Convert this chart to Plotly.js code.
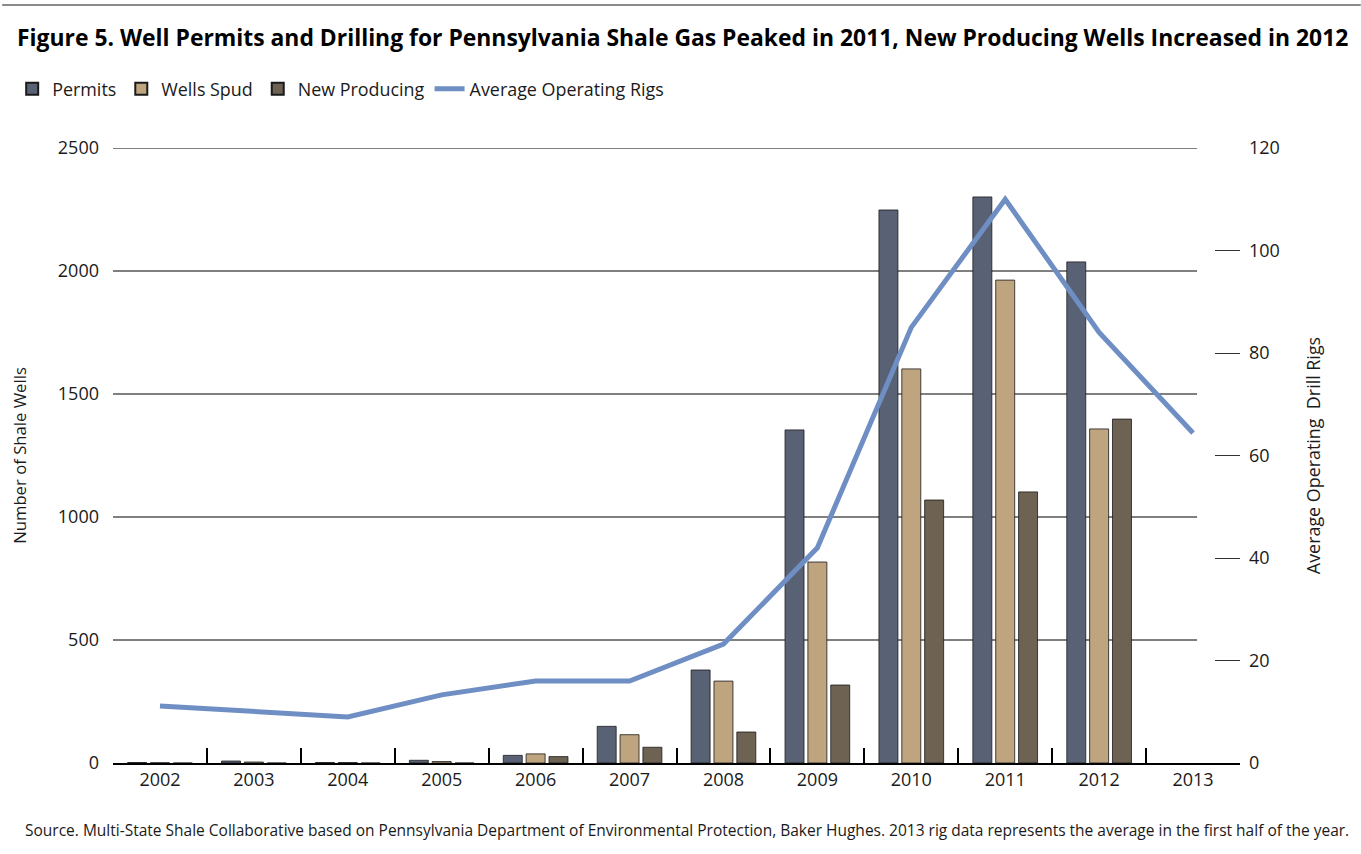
<!DOCTYPE html>
<html>
<head>
<meta charset="utf-8">
<script src="https://cdn.plot.ly/plotly-3.0.1.min.js"></script>
<style>html,body{margin:0;padding:0;background:#fff;}#chart{width:1361px;height:854px;}</style>
</head>
<body>
<div id="chart"></div>
<script>
const years = ['2002','2003','2004','2005','2006','2007','2008','2009','2010','2011','2012','2013'];
const permits = [2, 8, 2, 11, 31, 149, 378, 1354, 2248, 2301, 2037, null];
const wellsSpud = [1, 4, 2, 6, 37, 115, 333, 817, 1602, 1963, 1358, null];
const newProducing = [0, 0, 0, 0, 26, 64, 126, 317, 1069, 1102, 1398, null];
const rigs = [11.1, 10.0, 9.0, 13.3, 16, 16, 23.2, 42, 85, 110, 84, 64.4];
const leftTicks = [0, 500, 1000, 1500, 2000, 2500];
const rightTicks = [0, 20, 40, 60, 80, 100, 120];

const FONT = 'Open Sans, Noto Sans, sans-serif';
const W = 1361, H = 854, ML = 111, MR = 121, MT = 148, MB = 91;
const PW = W - ML - MR, PH = H - MT - MB;
const px2x = p => (p - ML) / PW;
const px2y = p => (H - MB - p) / PH;

const barLine = {color: '#1a1a1a', width: 0.8};
const traces = [
  {type: 'bar', name: 'Permits', x: years, y: permits, marker: {color: '#596275', line: barLine}},
  {type: 'bar', name: 'Wells Spud', x: years, y: wellsSpud, marker: {color: '#bea47f', line: barLine}},
  {type: 'bar', name: 'New Producing', x: years, y: newProducing, marker: {color: '#6e6253', line: barLine}},
  {type: 'scatter', mode: 'lines', name: 'Average Operating Rigs', x: years, y: rigs, yaxis: 'y2',
   line: {color: '#6f8fc4', width: 5}}
];

const shapes = leftTicks.filter(v => v > 0).map(v => ({
  type: 'line', xref: 'paper', yref: 'y', x0: 0, x1: px2x(1197), y0: v, y1: v,
  line: {color: '#000', width: 1}, layer: 'below'
}));
shapes.push({type: 'line', xref: 'paper', yref: 'paper', x0: px2x(0), x1: px2x(W), y0: px2y(5), y1: px2y(5),
  line: {color: '#8a8a8a', width: 2}});

const layout = {
  width: W, height: H,
  margin: {l: ML, r: MR, t: MT, b: MB},
  paper_bgcolor: '#fff', plot_bgcolor: '#fff',
  font: {family: FONT, color: '#1a1a1a', size: 16},
  title: {text: 'Figure 5. Well Permits and Drilling for Pennsylvania Shale Gas Peaked in 2011, New Producing Wells Increased in 2012',
    font: {family: FONT, size: 22.9, color: '#000', weight: 'bold'},
    x: 17 / W, xanchor: 'left', xref: 'container', y: 1 - 38 / H, yanchor: 'middle', yref: 'container'},
  barmode: 'group', bargap: 0.27, bargroupgap: 0.17,
  showlegend: true,
  legend: {orientation: 'h', x: px2x(10), xanchor: 'left', y: px2y(89), yanchor: 'middle',
    font: {family: FONT, size: 17.9, color: '#1a1a1a'}, itemsizing: 'constant', traceorder: 'normal'},
  xaxis: {type: 'category', tickson: 'boundaries', ticks: 'inside', ticklen: 15, tickcolor: '#000', tickwidth: 1.5,
    showline: true, linecolor: '#000', linewidth: 1.5, showgrid: false, zeroline: false,
    tickfont: {family: FONT, size: 18, color: '#1a1a1a'}, range: [-0.5, 11.5]},
  yaxis: {range: [0, 2500], tickvals: leftTicks, showgrid: false, zeroline: false, showline: false,
    ticks: '', ticklabelstandoff: 13, tickfont: {family: FONT, size: 18, color: '#1a1a1a'},
    title: {text: 'Number of Shale Wells', font: {family: FONT, size: 16.7, color: '#1a1a1a'}, standoff: 26}},
  yaxis2: {overlaying: 'y', side: 'right', range: [0, 120], tickvals: rightTicks, showgrid: false, zeroline: false,
    showline: false, ticks: 'inside', ticklen: 25, tickcolor: '#333', tickwidth: 1.3, ticklabelstandoff: 8,
    tickfont: {family: FONT, size: 18, color: '#1a1a1a'},
    title: {text: 'Average Operating  Drill Rigs', font: {family: FONT, size: 17.9, color: '#1a1a1a'}, standoff: 28}},
  shapes: shapes,
  annotations: [{text: 'Source. Multi-State Shale Collaborative based on Pennsylvania Department of Environmental Protection, Baker Hughes. 2013 rig data represents the average in the first half of the year.',
    xref: 'paper', yref: 'paper', x: px2x(21), xanchor: 'left', y: px2y(830), yanchor: 'middle', showarrow: false,
    font: {family: FONT, size: 15.5, color: '#1a1a1a'}}]
};

Plotly.newPlot('chart', traces, layout, {displayModeBar: false, responsive: false});
</script>
</body>
</html>
